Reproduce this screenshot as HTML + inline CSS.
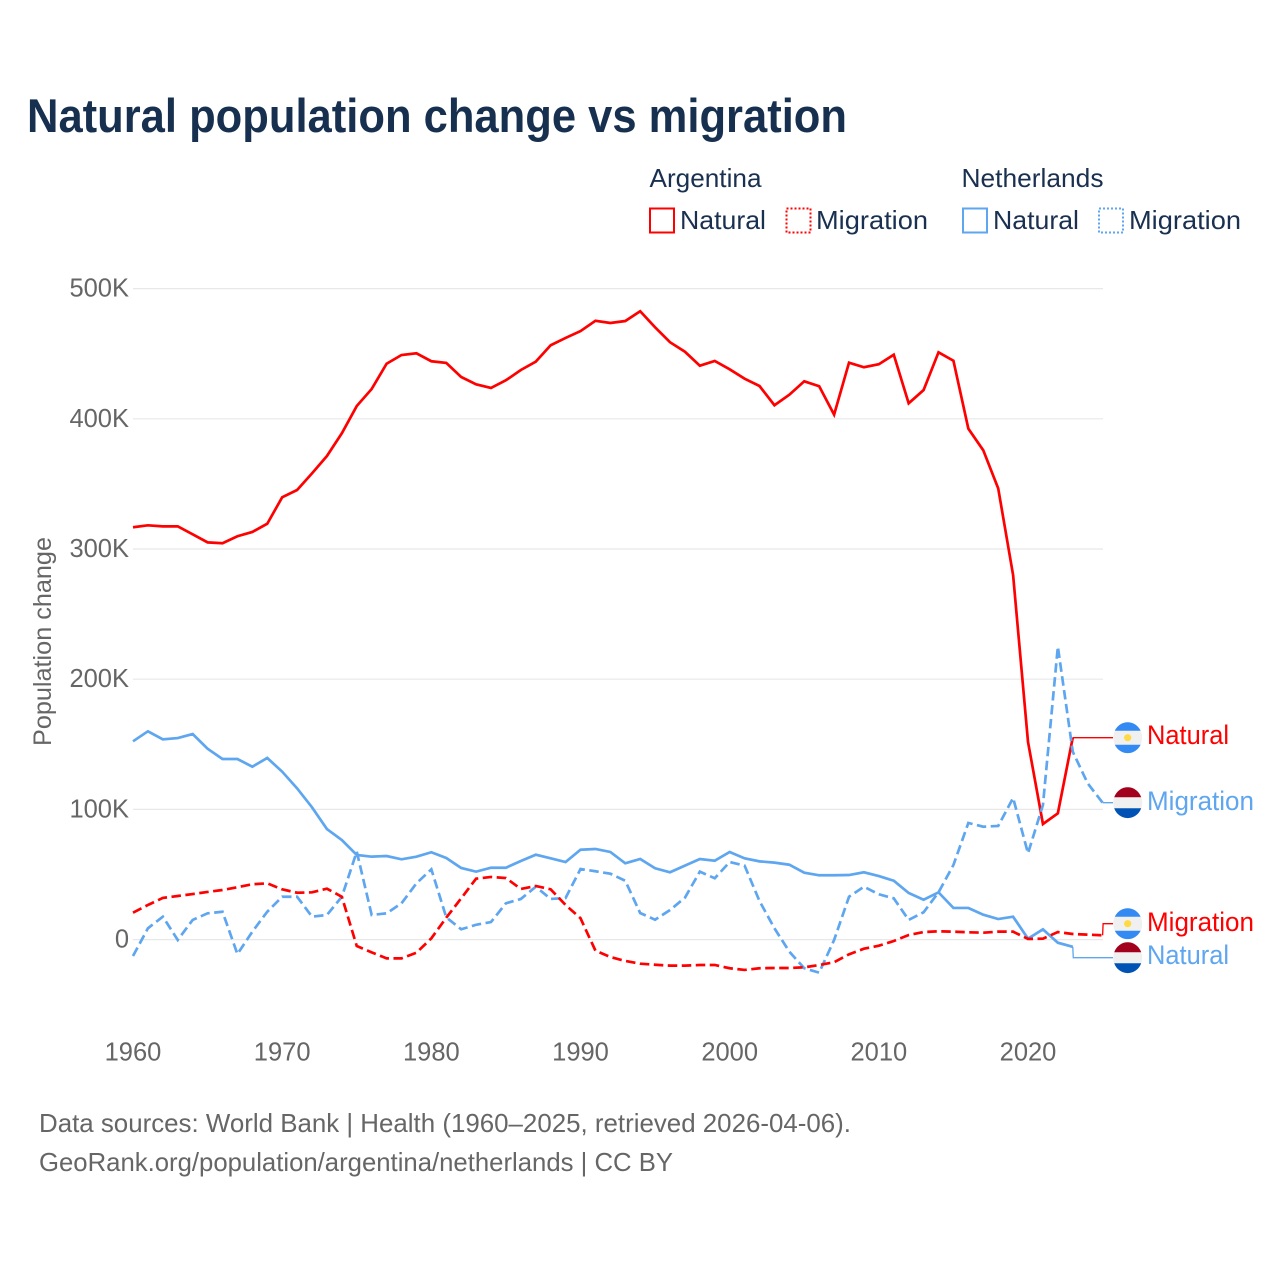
<!DOCTYPE html>
<html lang="en">
<head>
<meta charset="utf-8">
<title>Natural population change vs migration</title>
<style>
html,body{margin:0;padding:0;background:#fff;}
svg{display:block;}
text{font-family:"Liberation Sans",sans-serif;}
</style>
</head>
<body>
<svg id="chart" xmlns="http://www.w3.org/2000/svg" width="1280" height="1280" viewBox="0 0 1280 1280">
  <rect x="0" y="0" width="1280" height="1280" fill="#ffffff"/>
  <text x="27" y="132" font-size="47" font-weight="700" fill="#17304f" textLength="820" lengthAdjust="spacingAndGlyphs">Natural population change vs migration</text>

  <g font-size="26" fill="#1a3050">
    <text x="649.5" y="187" textLength="112" lengthAdjust="spacingAndGlyphs">Argentina</text>
    <text x="961.5" y="187" textLength="142" lengthAdjust="spacingAndGlyphs">Netherlands</text>
    <rect x="650" y="208.5" width="24" height="24" fill="none" stroke="#ff0000" stroke-width="2"/>
    <text x="680" y="229" textLength="86" lengthAdjust="spacingAndGlyphs">Natural</text>
    <rect x="786.5" y="208.5" width="24" height="24" fill="none" stroke="#ff0000" stroke-width="2" stroke-dasharray="2 2"/>
    <text x="816" y="229" textLength="112" lengthAdjust="spacingAndGlyphs">Migration</text>
    <rect x="963" y="208.5" width="24" height="24" fill="none" stroke="#5ea6ef" stroke-width="2"/>
    <text x="993" y="229" textLength="86" lengthAdjust="spacingAndGlyphs">Natural</text>
    <rect x="1099" y="208.5" width="24" height="24" fill="none" stroke="#5ea6ef" stroke-width="2" stroke-dasharray="2 2"/>
    <text x="1129" y="229" textLength="112" lengthAdjust="spacingAndGlyphs">Migration</text>
  </g>

  <g id="grid"></g>
  <g id="yticks" font-size="25.5" fill="#666666" text-anchor="end"></g>
  <g id="xticks" font-size="25.5" fill="#666666" text-anchor="middle"></g>
  <text transform="translate(51,746) rotate(-90)" font-size="25" fill="#666666" textLength="209" lengthAdjust="spacingAndGlyphs">Population change</text>

  <g id="series"></g>

  <g font-size="27">
    <g transform="translate(1127.7,737.7)">
      <ellipse rx="14.5" ry="15.6" fill="#f0f0f0"/><path d="M-12.9-7A14.5 15.6 0 0 1 12.9-7Z" fill="#338af3"/><path d="M-12.9 7A14.5 15.6 0 0 0 12.9 7Z" fill="#338af3"/><circle r="3.6" fill="#ffda44"/>
    </g>
    <text x="1147" y="744" fill="#ff0000" textLength="82" lengthAdjust="spacingAndGlyphs">Natural</text>
    <g transform="translate(1127.7,802.7)">
      <ellipse rx="14.5" ry="15.6" fill="#f0f0f0"/><path d="M-13.5-5.5A14.5 15.6 0 0 1 13.5-5.5Z" fill="#a2001d"/><path d="M-13.5 5.5A14.5 15.6 0 0 0 13.5 5.5Z" fill="#0052b4"/>
    </g>
    <text x="1147" y="810" fill="#5ea6ef" textLength="107" lengthAdjust="spacingAndGlyphs">Migration</text>
    <g transform="translate(1127.7,923.7)">
      <ellipse rx="14.5" ry="15.6" fill="#f0f0f0"/><path d="M-12.9-7A14.5 15.6 0 0 1 12.9-7Z" fill="#338af3"/><path d="M-12.9 7A14.5 15.6 0 0 0 12.9 7Z" fill="#338af3"/><circle r="3.6" fill="#ffda44"/>
    </g>
    <text x="1147" y="931" fill="#ff0000" textLength="107" lengthAdjust="spacingAndGlyphs">Migration</text>
    <g transform="translate(1127.7,957.7)">
      <ellipse rx="14.5" ry="15.6" fill="#f0f0f0"/><path d="M-13.5-5.5A14.5 15.6 0 0 1 13.5-5.5Z" fill="#a2001d"/><path d="M-13.5 5.5A14.5 15.6 0 0 0 13.5 5.5Z" fill="#0052b4"/>
    </g>
    <text x="1147" y="964" fill="#5ea6ef" textLength="82" lengthAdjust="spacingAndGlyphs">Natural</text>
  </g>

  <g font-size="26" fill="#666666">
    <text x="39" y="1132" textLength="812" lengthAdjust="spacingAndGlyphs">Data sources: World Bank | Health (1960–2025, retrieved 2026-04-06).</text>
    <text x="39" y="1171" textLength="634" lengthAdjust="spacingAndGlyphs">GeoRank.org/population/argentina/netherlands | CC BY</text>
  </g>
</svg>
<script>
const startYear = 1960;
const xTickYears = [1960, 1970, 1980, 1990, 2000, 2010, 2020];
const yTickValues = [0, 100, 200, 300, 400, 500];
const yTickLabels = ['0', '100K', '200K', '300K', '400K', '500K'];

// Values in thousands of people, one per year starting in 1960.
const argentinaNatural = [316.7,318.2,317.4,317.4,311.3,305.1,304.4,309.8,313.1,319.4,339.7,345.3,358.1,371.4,388.9,409.8,422.9,442.3,449.0,450.3,444.2,442.9,432.1,426.5,423.7,429.6,437.5,443.9,456.5,462.1,467.4,475.3,473.6,475.1,482.6,470.3,458.8,451.5,440.8,444.4,438.0,430.8,425.2,410.4,418.5,428.8,425.0,403.2,443.1,439.6,441.9,449.2,411.9,422.1,451.1,444.6,392.4,375.8,346.6,280.0,151.8,88.8,97.0,155.1];
const argentinaMigration = [20.7,26.6,32.0,33.5,35.0,36.6,38.1,40.2,42.5,43.2,38.6,36.0,36.3,39.1,32.9,-4.9,-9.8,-14.4,-14.4,-10.1,1.0,16.8,31.7,46.8,48.1,47.3,38.9,41.2,38.6,26.6,16.4,-8.5,-13.4,-16.4,-18.5,-19.3,-20.0,-20.0,-19.5,-19.5,-22.0,-23.3,-22.0,-21.8,-21.8,-21.3,-19.5,-17.4,-11.3,-7.0,-4.7,-1.1,3.5,5.8,6.4,6.1,5.6,5.3,6.1,6.1,0.5,0.7,5.8,4.3,3.8,3.3];
const netherlandsNatural = [152.3,160.0,153.8,154.8,157.9,146.6,138.7,138.7,132.8,139.5,129.0,116.2,101.6,84.9,76.5,65.0,63.7,64.2,61.7,63.7,67.1,62.7,55.0,52.2,55.2,55.2,60.4,65.2,62.4,59.6,69.0,69.6,67.3,58.6,61.9,54.8,51.7,56.8,61.9,60.6,67.3,62.4,60.1,59.1,57.5,51.4,49.4,49.4,49.6,51.7,48.8,45.2,35.8,30.6,36.3,24.3,24.3,19.1,15.8,17.6,0.7,7.9,-2.4,-5.5];
const netherlandsMigration = [-12.6,8.7,17.6,-0.3,15.1,20.2,21.4,-11.1,6.1,21.4,32.9,32.9,17.6,18.9,32.9,67.5,18.9,20.2,27.9,43.2,54.0,17.1,7.9,11.4,13.5,27.9,31.2,40.6,31.2,32.0,54.2,52.5,50.6,45.2,20.4,15.3,22.7,32.2,52.2,47.1,59.6,56.8,29.6,8.7,-9.3,-22.0,-25.4,-0.3,32.9,40.6,34.8,31.7,15.1,21.0,36.3,57.3,89.6,86.7,87.3,108.8,66.3,103.4,225.0,144.3,120.0,105.1];

const NS = 'http://www.w3.org/2000/svg';
const red = '#ff0000';
const blue = '#5ea6ef';
const plotLeft = 133;
const plotRight = 1103;

function xScale(year) {
  return 133 + (year - 1960) * 14.917;
}
function yScale(value) {
  return 939.6 - value * 1.302;
}

const gridGroup = document.getElementById('grid');
const yTickGroup = document.getElementById('yticks');
const xTickGroup = document.getElementById('xticks');
const seriesGroup = document.getElementById('series');

yTickValues.forEach(function (value, i) {
  const line = document.createElementNS(NS, 'line');
  
  
  line.setAttribute('x1', plotLeft);
  line.setAttribute('x2', plotRight);
  line.setAttribute('y1', yScale(value));
  line.setAttribute('y2', yScale(value));
  line.setAttribute('stroke', '#e8e8e8');
  line.setAttribute('stroke-width', '1.2');
  gridGroup.appendChild(line);

  const label = document.createElementNS(NS, 'text');
  
  
  label.setAttribute('x', 129);
  label.setAttribute('y', yScale(value) + 8);
  label.textContent = yTickLabels[i];
  yTickGroup.appendChild(label);
});

xTickYears.forEach(function (year) {
  const label = document.createElementNS(NS, 'text');
  
  
  label.setAttribute('x', xScale(year));
  label.setAttribute('y', 1060.5);
  label.textContent = String(year);
  xTickGroup.appendChild(label);
});

function drawSeries(name, values, color, dash) {
  const points = values.map(function (value, i) {
    return xScale(startYear + i).toFixed(2) + ',' + yScale(value).toFixed(2);
  }).join(' ');
  const line = document.createElementNS(NS, 'polyline');
  
  
  line.setAttribute('points', points);
  line.setAttribute('fill', 'none');
  line.setAttribute('stroke', color);
  line.setAttribute('stroke-width', '2.7');
  line.setAttribute('stroke-linejoin', 'miter');
  if (dash) {
    line.setAttribute('stroke-dasharray', dash);
  }
  seriesGroup.appendChild(line);
}

function drawLeader(name, values, color, labelY) {
  const lastIndex = values.length - 1;
  const x = xScale(startYear + lastIndex);
  const y = yScale(values[lastIndex]);
  const stepX = x + 0.5;
  const leader = document.createElementNS(NS, 'polyline');
  
  
  leader.setAttribute('points', x + ',' + y + ' ' + stepX + ',' + labelY + ' 1113,' + labelY);
  leader.setAttribute('fill', 'none');
  leader.setAttribute('stroke', color);
  leader.setAttribute('stroke-width', '1.3');
  seriesGroup.appendChild(leader);
}

drawLeader('leader-netherlands-migration', netherlandsMigration, blue, 802.7);
drawLeader('leader-argentina-migration', argentinaMigration, red, 923.7);
drawLeader('leader-argentina-natural', argentinaNatural, red, 737.7);
drawLeader('leader-netherlands-natural', netherlandsNatural, blue, 957.7);

drawSeries('line-argentina-natural', argentinaNatural, red, null);
drawSeries('line-netherlands-natural', netherlandsNatural, blue, null);
drawSeries('line-netherlands-migration', netherlandsMigration, blue, '9.5 4.5');
drawSeries('line-argentina-migration', argentinaMigration, red, '9.5 4.5');
</script>
</body>
</html>
